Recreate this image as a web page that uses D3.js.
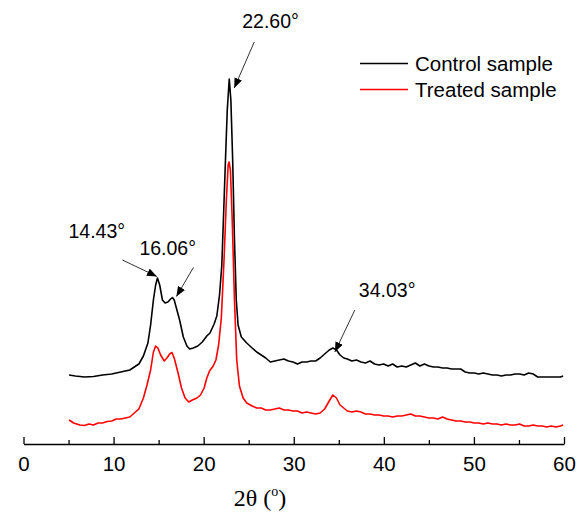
<!DOCTYPE html>
<html>
<head>
<meta charset="utf-8">
<script src="https://cdn.jsdelivr.net/npm/d3@7"></script>
<style>
  html, body { margin: 0; padding: 0; background: #fff; }
  svg { display: block; font-family: "Liberation Sans", Arial, sans-serif; }
</style>
</head>
<body>
<svg id="chart" width="583" height="513"></svg>
<script>
// ---------- DATA ----------
const seriesNames = ["Control sample", "Treated sample"];

// [2θ (deg), intensity (a.u.)]
const controlSample = [
  [5.06,69],[5.76,68],[6.77,67],[7.77,67.5],[8.78,69],[9.79,70],[10.79,72],[11.30,73],[11.80,74],
  [12.30,77],[12.81,80],[13.31,88],[13.81,101],[14.11,119],[14.42,144],[14.67,159],[14.87,166],
  [15.12,159],[15.42,144],[15.72,141],[16.03,142],[16.33,145],[16.53,146.5],[16.73,144],[17.03,134],
  [17.33,124],[17.74,107],[18.14,98],[18.44,95],[18.84,96],[19.35,98],[19.85,102],[20.35,108],
  [20.70,111],[21.16,120],[21.46,128],[21.76,149],[22.01,178],[22.21,229],[22.42,284],[22.62,334],
  [22.84,365],[23.02,344],[23.22,284],[23.42,204],[23.62,144],[23.82,119],[24.18,107],[24.78,101],
  [25.38,96],[25.89,92],[26.39,89],[26.89,86],[27.40,82],[27.90,83],[28.40,84],[28.91,85],[29.41,83],
  [29.91,82],[30.42,80],[30.92,82],[31.42,82],[31.92,83],[32.43,83],[32.93,86],[33.43,90],[33.94,94],
  [34.34,96],[34.74,94],[35.14,89],[35.55,86],[35.95,85],[36.45,83],[36.96,84],[37.46,82],[37.96,81],
  [38.47,83],[38.97,80],[39.47,79],[39.97,80],[40.48,78],[40.98,80],[41.48,77],[41.99,78],[42.49,77],
  [42.99,79],[43.50,81],[44.00,78],[44.50,80],[45.01,78],[45.51,77],[46.01,77],[46.52,76],[47.02,76],
  [47.52,75],[48.03,75],[48.53,75],[49.03,72],[49.54,71],[50.04,71],[50.54,70],[51.04,71],[51.55,70],
  [52.05,69],[52.55,69],[53.06,68],[53.56,69],[54.06,69],[54.57,70],[55.07,70],[55.57,69],[56.08,71],
  [56.58,70],[57.08,67],[57.59,67],[58.09,67],[58.59,67],[59.10,67],[59.60,67],[59.90,68]
];

const treatedSample = [
  [5.06,24],[5.56,21],[6.26,19],[6.77,18.5],[7.27,20],[7.77,19],[8.28,21],[8.78,21],[9.28,22.5],
  [9.79,23],[10.29,25],[10.79,25],[11.30,26],[11.80,27],[12.30,31],[12.81,35],[13.31,46],[13.71,59],
  [14.11,74],[14.42,92],[14.67,98],[14.92,96],[15.22,89],[15.62,83],[15.92,86],[16.23,90],[16.48,91.5],
  [16.73,86],[17.13,72],[17.54,56],[17.94,46],[18.34,42],[18.74,44],[19.25,46],[19.65,49],[20.05,56],
  [20.35,66],[20.65,73],[21.06,78],[21.36,84],[21.66,99],[21.96,126],[22.26,184],[22.52,244],
  [22.72,279],[22.82,282],[22.97,274],[23.17,224],[23.42,144],[23.67,84],[23.97,58],[24.38,46],
  [24.78,41],[25.38,38],[25.89,36],[26.39,36],[26.89,34],[27.40,34],[27.90,35],[28.40,36],[28.91,34],
  [29.41,34],[29.91,33],[30.42,33],[30.92,31],[31.42,32],[31.92,31],[32.43,30],[32.93,31],[33.43,35],
  [33.94,43],[34.34,49],[34.74,46],[35.14,39],[35.55,36],[35.95,33],[36.45,32],[36.96,33],[37.46,32],
  [37.96,30],[38.47,30],[38.97,29],[39.47,29],[39.97,28],[40.48,28],[40.98,27],[41.48,28],[41.99,28],
  [42.49,29],[42.99,30],[43.50,28],[44.00,28],[44.50,27],[45.01,26],[45.51,26],[46.01,25],[46.52,27],
  [47.02,25],[47.52,24],[48.03,23],[48.53,23],[49.03,22],[49.54,22],[50.04,21],[50.54,21],[51.04,20],
  [51.55,21],[52.05,20],[52.55,20],[53.06,19],[53.56,20],[54.06,19],[54.57,19],[55.07,20],[55.57,18],
  [56.08,18],[56.58,19],[57.08,18],[57.59,18],[58.09,17],[58.59,18],[59.10,17],[59.60,18],[59.90,19]
];

const majorTicks = [0, 10, 20, 30, 40, 50, 60];
const minorTicks = [5, 15, 25, 35, 45, 55];

// peak annotations: label text and the control-curve peak angle they point at
const peakLabels = ["14.43°", "16.06°", "22.60°", "34.03°"];
const peakAngles = [14.87, 16.53, 22.84, 34.34];

// ---------- LAYOUT ----------
const svg = d3.select("#chart");
const x = d3.scaleLinear().domain([0, 60]).range([23.5, 564]);
const y = d3.scaleLinear().domain([0, 440]).range([444, 4]);

// label text position and arrow tail/tip offsets (pixels, relative to peak point)
const annLayout = [
  { tx: -89, ty: -40, ax1: -35, ay1: -18, ax2: -0.5, ay2: -1.5 },
  { tx: -33, ty: -43, ax1: 21, ay1: -30, ax2: 4,  ay2: -1 },
  { tx: 13,  ty: -51, ax1: 25, ay1: -37, ax2: 5,  ay2: 9 },
  { tx: 26,  ty: -51, ax1: 22, ay1: -38, ax2: 2,  ay2: 4 }
];

const colors = ["#000000", "#ff0000"];

// ---------- AXIS ----------
const axisG = svg.append("g").attr("transform", `translate(0,${y(0)})`);
axisG.call(d3.axisBottom(x).tickValues(majorTicks).tickSizeInner(-7).tickSizeOuter(0)
  .tickPadding(12).tickFormat(d3.format("d")));
axisG.select(".domain").attr("stroke", "#000").attr("stroke-width", 1.4);
axisG.selectAll(".tick line").attr("stroke", "#000").attr("stroke-width", 1.3);
axisG.selectAll(".tick text").attr("font-size", 20.5).attr("fill", "#000")
  .attr("font-family", "'Liberation Sans', Arial, sans-serif");

const minorG = svg.append("g").attr("transform", `translate(0,${y(0)})`);
minorG.call(d3.axisBottom(x).tickValues(minorTicks).tickSizeInner(-4).tickSizeOuter(0).tickFormat(""));
minorG.select(".domain").remove();
minorG.selectAll(".tick line").attr("stroke", "#000").attr("stroke-width", 1.3);

// axis title
const title = svg.append("text").attr("x", 260).attr("y", 506).attr("text-anchor", "middle")
  .attr("font-family", "'Liberation Serif', 'Times New Roman', serif").attr("font-size", 24)
  .attr("fill", "#000");
title.append("tspan").text("2θ (");
title.append("tspan").attr("font-size", 14).attr("dy", -10).text("o");
title.append("tspan").attr("dy", 10).text(")");

// ---------- LINES ----------
const line = d3.line().x(d => x(d[0])).y(d => y(d[1])).curve(d3.curveLinear);
[controlSample, treatedSample].forEach((s, i) => {
  svg.append("path").datum(s).attr("d", line).attr("fill", "none")
    .attr("stroke", colors[i]).attr("stroke-width", 1.6).attr("stroke-linejoin", "round");
});

// ---------- LEGEND ----------
const legendG = svg.append("g");
seriesNames.forEach((n, i) => {
  const ly = 63.5 + i * 26;
  legendG.append("line").attr("x1", 360).attr("x2", 408).attr("y1", ly).attr("y2", ly)
    .attr("stroke", colors[i]).attr("stroke-width", 1.6);
  legendG.append("text").attr("x", 415).attr("y", ly + 7).attr("font-size", 20.5)
    .attr("fill", "#000").text(n);
});

// ---------- ANNOTATIONS ----------
const defs = svg.append("defs");
defs.append("marker").attr("id", "arrow").attr("viewBox", "0 0 10 8").attr("refX", 10).attr("refY", 4)
  .attr("markerWidth", 10).attr("markerHeight", 8).attr("markerUnits", "userSpaceOnUse")
  .attr("orient", "auto")
  .append("path").attr("d", "M0,0 L10,4 L0,8 Z").attr("fill", "#000");

function peakIntensity(a) {
  const p = controlSample.find(d => d[0] === a);
  return p ? p[1] : 0;
}
peakLabels.forEach((lab, i) => {
  const px = x(peakAngles[i]), py = y(peakIntensity(peakAngles[i]));
  const L = annLayout[i];
  svg.append("line").attr("x1", px + L.ax1).attr("y1", py + L.ay1)
    .attr("x2", px + L.ax2).attr("y2", py + L.ay2)
    .attr("stroke", "#333").attr("stroke-width", 1).attr("marker-end", "url(#arrow)");
  svg.append("text").attr("x", px + L.tx).attr("y", py + L.ty).attr("font-size", 19.5)
    .attr("fill", "#000").text(lab);
});
</script>
</body>
</html>
